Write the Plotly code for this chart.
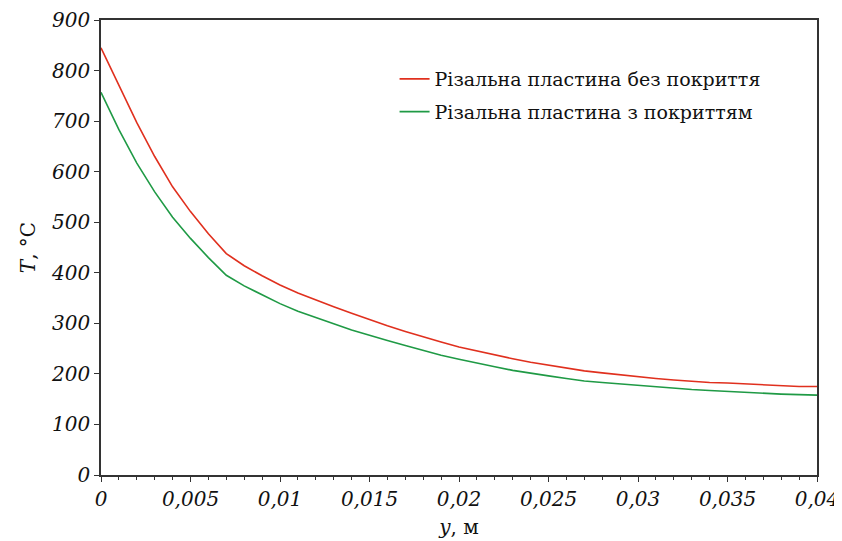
import plotly.graph_objects as go

y_m = [0, 0.001, 0.002, 0.003, 0.004, 0.005, 0.006, 0.007, 0.008, 0.009, 0.010,
       0.011, 0.012, 0.013, 0.014, 0.015, 0.016, 0.017, 0.018, 0.019, 0.020,
       0.021, 0.022, 0.023, 0.024, 0.025, 0.026, 0.027, 0.028, 0.029, 0.030,
       0.031, 0.032, 0.033, 0.034, 0.035, 0.036, 0.037, 0.038, 0.039, 0.040]

t_uncoated = [845, 770, 697, 630, 570, 521, 477, 438, 414, 394, 376,
              360, 346, 333, 320, 307, 295, 284, 273, 263, 253,
              245, 237, 230, 223, 217, 211, 206, 202, 198, 194,
              191, 188, 185, 183, 182, 180, 178, 177, 175, 175]

t_coated = [757, 683, 617, 560, 510, 468, 430, 395, 374, 356, 339,
            324, 311, 299, 287, 276, 266, 256, 246, 237, 229,
            221, 214, 207, 201, 196, 191, 186, 183, 180, 177,
            174, 171, 169, 167, 165, 163, 161, 160, 159, 158]

names = ["Різальна пластина без покриття", "Різальна пластина з покриттям"]

x_tickvals = [0, 0.005, 0.01, 0.015, 0.02, 0.025, 0.03, 0.035, 0.04]
x_ticktext = ["0", "0,005", "0,01", "0,015", "0,02", "0,025", "0,03", "0,035", "0,04"]
y_tickvals = [0, 100, 200, 300, 400, 500, 600, 700, 800, 900]
y_ticktext = [str(v) for v in y_tickvals]

FONT = "DejaVu Serif"

fig = go.Figure()
fig.add_trace(go.Scatter(x=y_m, y=t_uncoated, mode="lines", name=names[0], legendgroup="a",
                         line=dict(color="#e0301e", width=1.6)))
fig.add_trace(go.Scatter(x=y_m, y=t_coated, mode="lines", name=names[1], legendgroup="b",
                         line=dict(color="#1f9a45", width=1.6)))

axis_common = dict(showgrid=False, zeroline=False, showline=True, linecolor="#333333",
                   linewidth=1.5, mirror=True, ticks="outside", tickcolor="#333333",
                   tickwidth=1.2, automargin=False)

fig.update_xaxes(range=[0, 0.04], tickvals=x_tickvals, ticktext=x_ticktext,
                 ticklen=5, minor=dict(dtick=0.001, ticks="outside", ticklen=3,
                                       tickcolor="#333333", tickwidth=1.2),
                 tickfont=dict(family=FONT, size=20, color="#111111", style="italic"),
                 title=dict(text="<i>y</i>, м", font=dict(family=FONT, size=20, color="#111111"),
                            standoff=10),
                 **axis_common)
fig.update_yaxes(range=[0, 900], tickvals=y_tickvals, ticktext=y_ticktext, ticklen=5,
                 tickfont=dict(family=FONT, size=20, color="#111111", style="italic"),
                 title=dict(text="<i>T</i>, °C", font=dict(family=FONT, size=20, color="#111111"),
                            standoff=10),
                 **axis_common)

# the page body adds an 8px offset; size the figure so it fills the 842x541 window
fig.update_layout(
    width=834, height=533,
    margin=dict(l=93, r=25, t=12, b=66),
    plot_bgcolor="white", paper_bgcolor="white",
    legend=dict(x=0.41, y=0.912, xanchor="left", yanchor="top",
                font=dict(family=FONT, size=19, color="#111111"),
                bgcolor="rgba(0,0,0,0)", traceorder="grouped", tracegroupgap=5,
                itemwidth=30),
)

fig.write_html("out.html")
